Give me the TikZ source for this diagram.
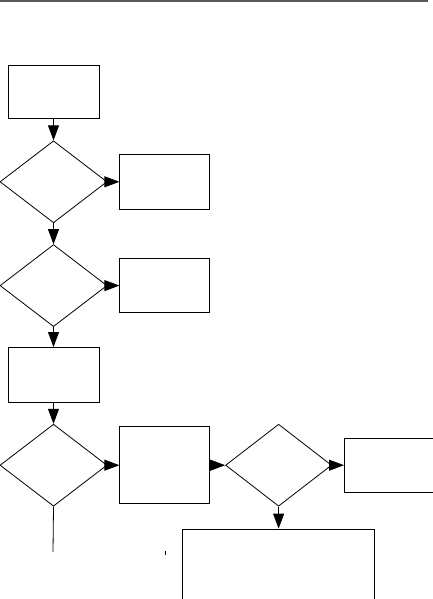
\documentclass[tikz,border=0pt]{standalone}
\usepackage{tikz}
\usetikzlibrary{shapes, shapes.geometric, arrows.meta, positioning}
\tikzset{
  stepbox/.style={draw, line width=0.8pt, inner sep=0pt},
  decide/.style={diamond, draw, line width=0.8pt, inner sep=0pt, minimum width=107pt, minimum height=82pt},
  flow/.style={-{Triangle[length=15pt, width=11pt]}, line width=0.8pt},
}
\begin{document}
\begin{tikzpicture}[x=1pt, y=-1pt]
  \useasboundingbox (0,0) rectangle (433,599);
  \draw[gray!70!black, line width=1.2pt] (0,1) -- (428,1);
  % left column
  \node[stepbox, minimum width=91pt, minimum height=53pt] (start) at (53.5,91.5) {};
  \node[decide, below=22pt of start] (q1) {};
  \node[decide, below=21pt of q1] (q2) {};
  \node[stepbox, minimum width=91pt, minimum height=55pt, below=20pt of q2] (mid) {};
  \node[decide, below=21pt of mid] (q3) {};
  % branches
  \node[stepbox, minimum width=90pt, minimum height=55pt, right=12pt of q1] (r1) {};
  \node[stepbox, minimum width=90pt, minimum height=54pt, right=12pt of q2] (r2) {};
  \node[stepbox, minimum width=90pt, minimum height=77pt, right=12pt of q3] (r3) {};
  \node[decide, minimum width=106pt, right=15pt of r3] (q4) {};
  \node[stepbox, minimum width=90pt, minimum height=54pt, right=12pt of q4] (r4) {};
  \node[stepbox, minimum width=192pt, minimum height=71pt, below=22pt of q4] (last) {};
  \coordinate (q3end) at (53,552);
  % connectors
  \draw[flow] (start) -- (q1);
  \draw[flow] (q1) -- (r1);
  \draw[flow] (q1) -- (q2);
  \draw[flow] (q2) -- (r2);
  \draw[flow] (q2) -- (mid);
  \draw[flow] (mid) -- (q3);
  \draw[flow] (q3) -- (r3);
  \draw[flow] (r3) -- (q4);
  \draw[flow] (q4) -- (r4);
  \draw[flow] (q4) -- (last);
  \draw[line width=0.8pt] (q3.south) -- (q3end);
  \draw[line width=0.8pt] (165,551) -- (165,555);
\end{tikzpicture}
\end{document}
